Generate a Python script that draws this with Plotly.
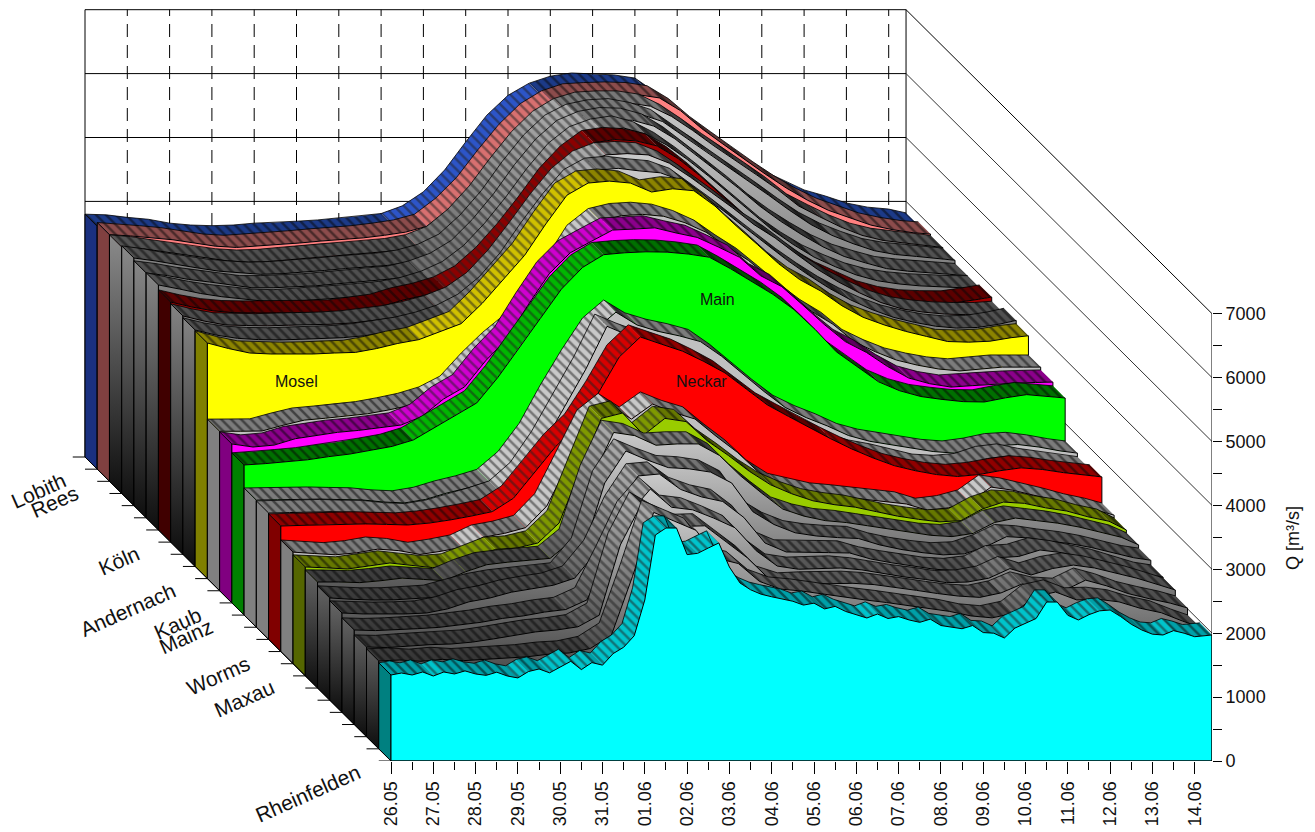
import plotly.graph_objects as go

# ---------- data: discharge Q [m3/s] per gauge layer ----------
DATE_LABELS = ["26.05","27.05","28.05","29.05","30.05","31.05","01.06","02.06","03.06","04.06",
               "05.06","06.06","07.06","08.06","09.06","10.06","11.06","12.06","13.06","14.06"]
Q_TICKS = [0,1000,2000,3000,4000,5000,6000,7000]
DAYS_HALF = [i*0.5 for i in range(39)] + [19.41]
DAYS_QUARTER = [i*0.25 for i in range(78)] + [19.41]

Q24 = [3800,3790,3750,3720,3660,3630,3620,3630,3660,3670,
       3690,3710,3740,3770,3810,3930,4150,4490,4930,5350,
       5660,5850,5960,6010,5990,5980,5930,5700,5430,5200,
       4960,4730,4490,4330,4180,4085,3975,3910,3880,3820]
Q23 = [3860,3840,3810,3780,3730,3680,3660,3680,3710,3730,
       3760,3780,3810,3850,3900,3990,4240,4570,5000,5400,
       5720,5920,6030,6050,6060,6050,6000,5800,5520,5280,
       5040,4810,4590,4400,4240,4120,4010,3940,3890,3870]
Q22 = [3857,3830,3780,3730,3680,3640,3620,3630,3660,3690,
       3720,3740,3770,3800,3860,3990,4260,4620,5060,5470,
       5790,5990,6090,6110,6110,6060,5900,5680,5440,5220,
       4990,4760,4500,4330,4170,4040,3960,3920,3880,3850]
Q21 = [3875,3830,3770,3720,3670,3640,3620,3630,3650,3680,
       3710,3730,3760,3810,3900,4060,4360,4740,5200,5610,
       5920,6090,6160,6180,6120,6010,5780,5560,5320,5090,
       4860,4620,4400,4230,4100,3990,3930,3900,3870,3840]
Q20 = [3831,3790,3730,3690,3640,3600,3600,3610,3630,3660,
       3690,3710,3750,3830,3950,4150,4480,4880,5340,5740,
       6030,6170,6230,6220,6130,5930,5680,5420,5160,4880,
       4640,4430,4240,4090,3990,3900,3860,3840,3810,3790]
Q19 = [3834,3770,3700,3650,3610,3580,3570,3590,3610,3640,
       3670,3700,3760,3860,4010,4260,4610,5020,5470,5860,
       6120,6240,6290,6200,6030,5800,5540,5260,4980,4700,
       4470,4270,4120,3990,3900,3850,3820,3800,3790,3790]
Q18 = [3757,3680,3620,3590,3585,3585,3590,3595,3600,3640,
       3690,3790,3860,3960,4130,4420,4790,5210,5660,6010,
       6250,6300,6280,6200,6000,5740,5440,5150,4850,4590,
       4390,4200,4050,3900,3810,3760,3745,3742,3790,3835]
Q17 = [3730,3650,3590,3580,3575,3585,3590,3600,3620,3660,
       3700,3770,3860,3990,4220,4570,5000,5450,5850,6120,
       6250,6270,6250,6120,5900,5660,5420,5160,4950,4700,
       4460,4260,4090,3940,3840,3790,3760,3750,3750,3770]
Q16 = [3700,3620,3570,3550,3545,3555,3565,3580,3610,3660,
       3710,3790,3900,4070,4340,4720,5200,5640,6020,6200,
       6230,6190,6160,6040,5800,5560,5300,5040,4790,4560,
       4350,4170,4020,3900,3820,3760,3730,3740,3790,3850]
Q15 = [3687,3600,3530,3515,3510,3515,3530,3540,3600,3680,
       3740,3860,3990,4310,4690,5060,5550,6000,6190,6220,
       6190,6050,6100,6070,5830,5520,5230,4930,4680,4500,
       4270,4090,3970,3870,3790,3710,3700,3715,3770,3800]
Q14 = [2496,2496,2500,2590,2670,2700,2740,2770,2830,2900,
       3000,3170,3530,3850,4120,4500,5010,5530,5790,5870,
       5890,5860,5760,5610,5380,5170,4900,4620,4370,4170,
       3900,3740,3610,3530,3470,3440,3470,3500,3500,3500]
Q13 = [2487,2440,2470,2570,2620,2670,2700,2740,2784,2920,
       3190,3380,3790,4130,4660,5150,5480,5660,5835,5850,
       5870,5790,5720,5570,5410,5120,4950,4660,4360,4090,
       3920,3700,3520,3430,3378,3400,3425,3440,3450,3456]
Q12 = [2349,2370,2400,2430,2480,2520,2580,2640,2740,2930,
       3130,3320,3720,4190,4640,5100,5440,5640,5670,5685,
       5680,5650,5600,5420,5220,5020,4780,4470,4120,3880,
       3650,3510,3420,3375,3340,3335,3400,3450,3420,3397]
Q11 = [1989,1995,2000,2005,1998,1992,1960,1945,2000,2100,
       2180,2280,2560,3000,3600,4150,4650,4931,4730,4630,
       4560,4470,4240,3960,3690,3440,3280,3150,3000,2910,
       2860,2800,2750,2725,2770,2840,2860,2820,2760,2725]
Q10 = [1978,1985,1995,2000,1990,1985,1950,1935,1990,2080,
       2180,2290,2580,3060,3640,4230,4900,4760,4640,4530,
       4430,4260,3990,3710,3470,3280,3140,3020,2930,2870,
       2790,2710,2690,2720,2830,2870,2800,2750,2700,2670]
Q09 = [1965,1975,1985,1992,1997,1990,1981,2010,2059,2120,
       2190,2400,2800,3210,3530,4040,4610,4923,4810,4700,
       4540,4360,4110,3860,3680,3500,3330,3170,3030,2910,
       2830,2770,2740,2770,2830,2875,2850,2800,2760,2733]
Q08 = [1746,1725,1705,1735,1793,1770,1710,1760,1825,1980,
       2040,2130,2470,3120,3780,4040,3828,4063,3930,3830,
       3560,3310,3000,2790,2710,2640,2610,2570,2540,2500,
       2400,2440,2530,2764,2717,2640,2560,2470,2400,2325]
Q07 = [1704,1690,1673,1720,1767,1730,1695,1720,1850,1980,
       2001,2080,2393,3220,4030,4114,3770,4030,3980,3680,
       3450,3200,2990,2850,2740,2680,2640,2570,2500,2450,
       2410,2430,2610,2720,2700,2630,2580,2490,2420,2283]
Q06 = [1659,1660,1650,1680,1720,1700,1680,1820,1930,1970,
       2000,2030,2300,3300,4000,3950,3800,3820,3820,3640,
       3320,3050,2800,2690,2620,2590,2540,2490,2440,2390,
       2370,2420,2590,2660,2620,2580,2520,2440,2360,2240]
Q05 = [1600,1580,1568,1570,1590,1610,1700,1790,1850,1885,
       1915,1960,2350,3400,3900,3760,3640,3620,3570,3400,
       2950,2750,2620,2570,2545,2530,2430,2360,2310,2275,
       2290,2400,2560,2540,2490,2450,2390,2310,2230,2190]
Q04 = [1555,1540,1535,1540,1555,1620,1730,1790,1880,1940,
       1990,2100,2500,3200,3700,3730,3490,3371,3300,3050,
       2650,2510,2500,2500,2494,2400,2340,2290,2240,2220,
       2260,2420,2440,2541,2500,2430,2360,2260,2160,2118]
Q03 = [1479,1470,1480,1500,1520,1560,1600,1660,1700,1760,
       1800,1950,2600,3300,3685,3400,3360,3230,3080,2720,
       2480,2430,2440,2450,2420,2360,2310,2270,2220,2230,
       2290,2440,2340,2440,2495,2450,2370,2290,2190,2105]
Q02 = [1403,1395,1420,1440,1450,1480,1530,1590,1640,1670,
       1720,1900,3000,3640,3450,3290,3300,3050,2800,2480,
       2374,2390,2400,2400,2380,2340,2290,2240,2200,2180,
       2250,2390,2310,2290,2450,2360,2240,2160,2090,2014]
Q01 = [1375,1390,1370,1400,1380,1400,1420,1440,1480,1500,
       1570,1780,2700,3700,3560,3420,2980,2900,2620,2500,
       2470,2420,2370,2330,2290,2240,2200,2150,2080,2050,
       2120,2380,2454,2330,2340,2300,2200,2130,2000,1906]
Q00 = [1346,1377,1346,1393,1330,1393,1362,1410,1362,1340,1390,1330,1300,1400,1440,1380,
       1470,1560,1430,1540,1500,1680,1780,1960,2520,3537,3646,3646,3230,3250,3333,3412,
       3036,2786,2680,2610,2570,2540,2500,2440,2470,2380,2420,2340,2290,2238,2300,2230,
       2260,2207,2170,2220,2120,2100,2070,2120,2010,2000,1925,2080,2160,2230,2488,2488,
       2280,2207,2290,2350,2363,2260,2140,2050,1985,1972,2040,2000,1945,1960,1972]

SERIES = [Q00,Q01,Q02,Q03,Q04,Q05,Q06,Q07,Q08,Q09,Q10,Q11,Q12,Q13,Q14,Q15,Q16,Q17,Q18,Q19,Q20,Q21,Q22,Q23,Q24]
GAUGE_LABELS = {24:"Lobith",23:"Rees",18:"Köln",15:"Andernach",13:"Kaub",12:"Mainz",9:"Worms",7:"Maxau",0:"Rheinfelden"}
RIVER_LABELS = [("Mosel",15,2.1,3092),("Main",12,11.2,4931),("Neckar",9,9.95,4219)]

# ---------- geometry of the oblique projection ----------
PX_DAY, PX_Q = 42.3, 0.0639
DX, DY = 12.24/PX_DAY, 12.16/PX_Q
NL = 25
T_END = 19.41
X_RANGE = [-391/PX_DAY, 821/PX_DAY]
Y_RANGE = [0, 761/PX_Q]

def proj(t, q, k):
    return t-k*DX, q+k*DY

# ---------- palette: side, rise, flat, fall, face ----------
DARK = ("grad","#a8a8a8","#787878","#404040","grad")
LIGHT = ("#808080","#c8c8c8","#7c7c7c","#4c4c4c","#c0c0c0")
COL = {
 0:("#008080","#00c4cc","#00a0a8","#007c80","#00ffff"),
 7:("#556600","#7f9900","#667800","#4c5a00","#99cc00"),
 9:("#800000","#d80000","#900000","#600000","#ff0000"),
 12:("#008000","#00b800","#007000","#005000","#00ff00"),
 13:("#800080","#d000d0","#8c008c","#600060","#ff00ff"),
 15:("#808000","#d0c000","#8c8400","#605c00","#ffff00"),
 18:("#400000","#8c0000","#5c0000","#400000","#a00000"),
 23:("#804040","#d87070","#8c4c4c","#5c3434","#ff8080"),
 24:("#1a3080","#2d55c8","#1c3a88","#0c1c48","#2d55c8"),
 8:LIGHT,10:LIGHT,11:LIGHT,14:LIGHT,
}
GRAD_SCALE = [[0,"#0e0e0e"],[1,"#cacaca"]]
CLEAR = "rgba(0,0,0,0)"

fig = go.Figure()

def poly(xs, ys, **kw):
    fig.add_trace(go.Scatter(x=xs, y=ys, mode="lines", hoverinfo="skip", showlegend=False, **kw))

for k in range(NL-1, -1, -1):
    q = SERIES[k]
    t = DAYS_QUARTER if k == 0 else DAYS_HALF
    side, rise, flat, fall, face = COL.get(k, DARK)
    is_grad = k not in COL
    base_y = k*DY
    buckets = {"rise":([],[]),"flat":([],[]),"fall":([],[])}
    for i in range(len(q)-1):
        s = (q[i+1]-q[i])/(t[i+1]-t[i])
        b = "rise" if s > 220 else ("fall" if s < -330 else "flat")
        ax, ay = proj(t[i], q[i], k)
        bx, by = proj(t[i+1], q[i+1], k)
        cx, cy = proj(t[i+1], q[i+1], k+1)
        dx, dy = proj(t[i], q[i], k+1)
        buckets[b][0].extend([ax,bx,cx,dx,ax,None])
        buckets[b][1].extend([ay,by,cy,dy,ay,None])
    for name, colour in (("flat",flat),("fall",fall),("rise",rise)):
        xs, ys = buckets[name]
        if not xs:
            continue
        hatch_colour = "#050505" if name != "rise" else "#202020"
        if is_grad:
            poly(xs, ys, fill="toself", line=dict(width=0),
                 fillgradient=dict(type="vertical", colorscale=[[0,"#0e0e0e"],[1,colour]],
                                   start=base_y, stop=base_y+max(q)))
            poly(xs, ys, fill="toself", line=dict(width=0), fillcolor=CLEAR,
                 fillpattern=dict(shape="\\", size=7, solidity=0.4, bgcolor=CLEAR, fgcolor=hatch_colour))
        else:
            poly(xs, ys, fill="toself", line=dict(width=0), fillcolor=colour,
                 fillpattern=dict(shape="\\", size=7, solidity=0.36, bgcolor=colour, fgcolor=hatch_colour))
    # back edge of the top surface
    back = [proj(a, b, k+1) for a, b in zip(t, q)]
    poly([p[0] for p in back], [p[1] for p in back], line=dict(color="#000000", width=0.8))
    # side wall
    x0, y0 = proj(0, q[0], k)
    x1, y1 = proj(0, q[0], k+1)
    xb0, yb0 = proj(0, 0, k)
    xb1, yb1 = proj(0, 0, k+1)
    sx = [xb0, x0, x1, xb1, xb0]
    sy = [yb0, y0, y1, yb1, yb0]
    if side == "grad":
        poly(sx, sy, fill="toself", line=dict(color="#000000", width=1),
             fillgradient=dict(type="vertical", colorscale=GRAD_SCALE, start=base_y, stop=base_y+max(q)))
    else:
        poly(sx, sy, fill="toself", fillcolor=side, line=dict(color="#000000", width=1))
    # front face
    front = [proj(a, b, k) for a, b in zip(t, q)]
    fx = [xb0] + [p[0] for p in front] + [proj(t[-1], 0, k)[0], xb0]
    fy = [yb0] + [p[1] for p in front] + [yb0, yb0]
    if face == "grad":
        poly(fx, fy, fill="toself", line=dict(color="#000000", width=1),
             fillgradient=dict(type="vertical", colorscale=GRAD_SCALE, start=base_y, stop=base_y+max(q)))
    else:
        poly(fx, fy, fill="toself", fillcolor=face, line=dict(color="#000000", width=1))

# ---------- walls, grid, axes drawn as shapes in data coordinates ----------
shapes = []
def seg(x0, y0, x1, y1, layer="below", **line):
    line.setdefault("color", "#000000")
    line.setdefault("width", 1)
    shapes.append(dict(type="line", xref="x", yref="y", x0=x0, y0=y0, x1=x1, y1=y1, layer=layer, line=line))

Q_TOP = Q_TICKS[-1]
bx0, by0 = proj(0, 0, NL)
bx1, _ = proj(T_END, 0, NL)
_, byT = proj(0, Q_TOP, NL)
seg(bx0, by0, bx0, byT)
seg(bx1, by0, bx1, byT)
for v in Q_TICKS:
    _, yy = proj(0, v, NL)
    seg(bx0, yy, bx1, yy)
    fx_, fy_ = proj(T_END, v, 0)
    seg(bx1, yy, fx_, fy_, color="#000000" if v == Q_TOP else "#333333")
for d in range(1, 20):
    xx, _ = proj(d, 0, NL)
    seg(xx, by0, xx, byT, dash="13px,8px")
# diagonal floor edge and gauge ticks
seg(*proj(0, 0, NL), *proj(0, 0, 0), layer="above")
for k in range(NL+1):
    x_, y_ = proj(0, 0, k)
    seg(x_, y_, x_-DX, y_, layer="above")
seg(0, 0, T_END, 0, layer="above")
seg(X_RANGE[1], 0, X_RANGE[1], Q_TOP, layer="above")

anns = []
for k, name in GAUGE_LABELS.items():
    x_, y_ = proj(0, 0, k)
    anns.append(dict(x=x_, y=y_, xref="x", yref="y", text=name, showarrow=False, textangle=-24,
                     xanchor="right", yanchor="top", xshift=-25, yshift=3,
                     font=dict(family="Liberation Sans", size=21, color="#111111")))
for name, k, d, v in RIVER_LABELS:
    x_, y_ = proj(d, v, k)
    anns.append(dict(x=x_, y=y_, xref="x", yref="y", text=name, showarrow=False,
                     font=dict(family="Liberation Sans", size=16, color="#111111")))
anns.append(dict(xref="paper", yref="paper", x=1293/1212, y=(761-538)/761, text="Q [m³/s]", showarrow=False,
                 xanchor="center", yanchor="middle", textangle=-90,
                 font=dict(family="Liberation Sans", size=18, color="#111111")))

fig.update_layout(
    width=1315, height=832, paper_bgcolor="#ffffff", plot_bgcolor="rgba(0,0,0,0)",
    margin=dict(l=0, r=103, t=0, b=71), showlegend=False, shapes=shapes, annotations=anns,
    font=dict(family="Liberation Sans", color="#111111"),
    xaxis=dict(range=X_RANGE, showgrid=False, zeroline=False, showline=False,
               tickmode="array", tickvals=list(range(len(DATE_LABELS))), ticktext=DATE_LABELS,
               ticks="outside", ticklen=12, tickcolor="#000000", tickangle=-90,
               tickfont=dict(family="Liberation Sans", size=18, color="#111111"),
               minor=dict(tickmode="array", tickvals=[i+0.5 for i in range(19)], ticks="outside",
                          ticklen=8, tickcolor="#000000", showgrid=False)),
    yaxis=dict(range=Y_RANGE, side="right", showgrid=False, zeroline=False, showline=False,
               tickmode="array", tickvals=Q_TICKS, ticks="outside", ticklen=9, tickcolor="#000000",
               tickfont=dict(family="Liberation Sans", size=18, color="#111111"),
               minor=dict(tickmode="array", tickvals=[v+500 for v in Q_TICKS[:-1]], ticks="outside",
                          ticklen=9, tickcolor="#000000", showgrid=False)),
)

fig.write_html("out.html", config={"displayModeBar": False}, post_script="document.body.style.margin='0';")
